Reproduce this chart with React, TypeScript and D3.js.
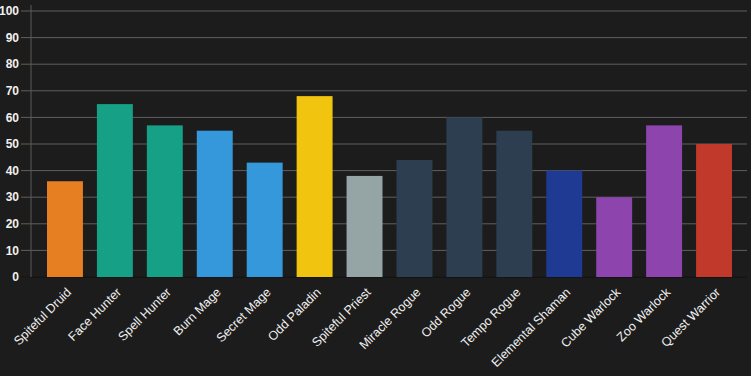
import React from "react";
import * as d3 from "d3";

const categories = [
  "Spiteful Druid", "Face Hunter", "Spell Hunter", "Burn Mage", "Secret Mage",
  "Odd Paladin", "Spiteful Priest", "Miracle Rogue", "Odd Rogue", "Tempo Rogue",
  "Elemental Shaman", "Cube Warlock", "Zoo Warlock", "Quest Warrior",
];
const values = [36, 65, 57, 55, 43, 68, 38, 44, 60, 55, 40, 30, 57, 50];
const colors = [
  "#e67e22", "#16a085", "#16a085", "#3498db", "#3498db",
  "#f1c40f", "#95a5a6", "#2c3e50", "#2c3e50", "#2c3e50",
  "#1f3a93", "#8e44ad", "#8e44ad", "#c0392b",
];
const yTicks = [0, 10, 20, 30, 40, 50, 60, 70, 80, 90, 100];

const W = 751;
const H = 376;
const axisX = 31;
const gridRight = 747;
const top = 11;
const bottom = 277;

export default function App() {
  const x = d3.scaleBand<string>().domain(categories).range([40, 739]).paddingInner(0).paddingOuter(0);
  const y = d3.scaleLinear().domain([0, 100]).range([bottom, top]);
  const bw = x.bandwidth() * 0.72;
  return (
    <svg width={W} height={H} style={{ position: "absolute", left: 0, top: 0, display: "block" }}
      fontFamily="'Liberation Sans', Arial, sans-serif">
      <rect x={0} y={0} width={W} height={H} fill="#1c1c1c" />
      {yTicks.map((t) => (
        <g key={t}>
          <line x1={21} x2={gridRight} y1={y(t)} y2={y(t)} stroke={t === 0 ? "#151515" : "#5f5f5f"} strokeWidth={1} />
          <text x={19} y={y(t)} dy="0.35em" textAnchor="end" fill="#f0f0f0" fontSize={12} fontWeight="bold">{t}</text>
        </g>
      ))}
      <line x1={axisX} x2={axisX} y1={5} y2={bottom} stroke="#5a5a5a" strokeWidth={1} />
      {categories.map((c, i) => {
        const cx = (x(c) as number) + x.bandwidth() / 2;
        return (
          <rect key={c} x={cx - bw / 2} y={y(values[i])} width={bw} height={bottom - y(values[i])} fill={colors[i]} />
        );
      })}
      <line x1={axisX} x2={gridRight} y1={bottom + 0.5} y2={bottom + 0.5} stroke="#141414" strokeWidth={1} />
      {categories.map((c) => {
        const cx = (x(c) as number) + x.bandwidth() / 2;
        return (
          <text key={c} transform={`translate(${cx + 7},${bottom + 16}) rotate(-45)`} textAnchor="end"
            fill="#f0f0f0" fontSize={12.5}>{c}</text>
        );
      })}
    </svg>
  );
}
